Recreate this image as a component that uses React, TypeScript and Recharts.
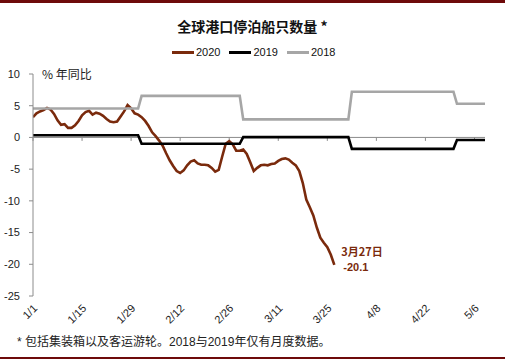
import React from 'react';
import { LineChart, Line, XAxis, YAxis, ReferenceLine, ReferenceDot, Label } from 'recharts';

// 2020 daily YoY values, starting 1/1 (day 0) through 3/27 (day 86)
const VALUES_2020 = [
  3.2, 3.8, 4.1, 4.3, 4.65, 4.4, 3.7, 2.7, 2.0, 2.1,
  1.5, 1.5, 1.9, 2.6, 3.5, 4.0, 4.2, 3.6, 3.9, 3.75,
  3.4, 2.9, 2.5, 2.4, 2.5, 3.3, 4.1, 5.1, 4.6, 3.8,
  3.6, 3.2, 2.6, 1.8, 0.8, 0.2, -0.5, -1.3, -2.5, -3.6,
  -4.5, -5.3, -5.6, -5.2, -4.4, -3.8, -3.6, -4.1, -4.3, -4.3,
  -4.4, -4.8, -5.4, -5.1, -3.0, -1.0, -0.6, -1.1, -2.1, -2.1,
  -1.9, -2.6, -3.9, -5.3, -4.8, -4.4, -4.3, -4.4, -4.2, -4.1,
  -3.7, -3.4, -3.3, -3.5, -4.0, -4.4, -5.3, -7.2, -9.8, -11.0,
  -12.3, -14.2, -15.8, -16.6, -17.3, -18.5, -20.1,
];

// Monthly series (Jan..May): first and last day index of each month
const MONTH_START = [0, 31, 60, 91, 121];
const MONTH_END = [30, 59, 90, 120, 129];
const VALUES_2019 = [0.35, -1.0, 0.05, -1.8, -0.4];
const VALUES_2018 = [4.55, 6.55, 2.85, 7.2, 5.3];

const TICK_DAYS = [0, 14, 28, 42, 56, 70, 84, 98, 112, 126];
const TICK_LABELS = ['1/1', '1/15', '1/29', '2/12', '2/26', '3/11', '3/25', '4/8', '4/22', '5/6'];
const Y_TICKS = [-25, -20, -15, -10, -5, 0, 5, 10];

const SERIES = [
  { name: '2020', color: '#7a2a0c' },
  { name: '2019', color: '#000000' },
  { name: '2018', color: '#a6a6a6' },
];

const LAST_DAY = 86;
const LAST_VALUE = -20.1;

const data2020 = VALUES_2020.map((v, i) => ({ day: i, v }));
const monthly = (vals: number[]) =>
  vals.flatMap((v, i) => [
    { day: MONTH_START[i], v },
    { day: MONTH_END[i], v },
  ]);
const data2019 = monthly(VALUES_2019);
const data2018 = monthly(VALUES_2018);

const FONT = '"Liberation Sans", "Noto Sans CJK SC", sans-serif';
const CJK = '"Noto Sans CJK SC", "Liberation Sans", sans-serif';

const XTick = (props: any) => {
  const { x, y, payload } = props;
  const idx = TICK_DAYS.indexOf(payload.value);
  const ax = x + 5;
  const ay = y + 5;
  return (
    <text
      x={ax}
      y={ay}
      transform={`rotate(-45, ${ax}, ${ay})`}
      textAnchor="end"
      fontSize={11}
      fontFamily={FONT}
      fill="#222"
    >
      {idx >= 0 ? TICK_LABELS[idx] : ''}
    </text>
  );
};

const EndLabel = (props: any) => {
  const { viewBox } = props;
  const cx = viewBox.x + viewBox.width / 2;
  const cy = viewBox.y + viewBox.height / 2;
  return (
    <g fontFamily={CJK} fontWeight={700} fontSize={11} fill="#7a2a0c">
      <text x={cx + 7} y={cy - 9}>3月27日</text>
      <text x={cx + 9} y={cy + 6} fontFamily={FONT}>{LAST_VALUE.toFixed(1)}</text>
    </g>
  );
};

export default function App() {
  return (
    <div
      style={{
        position: 'absolute',
        left: 0,
        top: 0,
        width: 505,
        height: 362,
        background: '#fff',
        overflow: 'hidden',
      }}
    >
      <div style={{ position: 'absolute', left: 0, top: 0, width: 505, height: 2.5, background: '#6e0a0a' }} />
      <div style={{ position: 'absolute', left: 0, top: 356.5, width: 505, height: 2.5, background: '#6e0a0a' }} />
      <div
        style={{
          position: 'absolute',
          left: 0,
          top: 16,
          width: 505,
          textAlign: 'center',
          fontFamily: CJK,
          fontWeight: 700,
          fontSize: 14,
          lineHeight: '20px',
          color: '#111',
        }}
      >
        全球港口停泊船只数量 *
      </div>
      <div
        style={{
          position: 'absolute',
          left: 172,
          top: 44,
          display: 'flex',
          alignItems: 'center',
          fontFamily: FONT,
          fontSize: 11,
          lineHeight: '16px',
          color: '#111',
        }}
      >
        {SERIES.map((s) => (
          <div key={s.name} style={{ display: 'flex', alignItems: 'center', marginRight: 9 }}>
            <div style={{ width: 22, height: 3, background: s.color, marginRight: 2 }} />
            <span>{s.name}</span>
          </div>
        ))}
      </div>
      <div
        style={{
          position: 'absolute',
          left: 42,
          top: 66,
          fontFamily: CJK,
          fontSize: 12,
          lineHeight: '16px',
          color: '#222',
        }}
      >
        % 年同比
      </div>
      <div
        style={{
          position: 'absolute',
          left: 17,
          top: 333,
          fontFamily: FONT,
          fontSize: 12,
          lineHeight: '18px',
          color: '#222',
          whiteSpace: 'nowrap',
        }}
      >
        * 包括集装箱以及客运游轮。2018与2019年仅有月度数据。
      </div>
      <div style={{ position: 'absolute', left: 0, top: 0 }}>
        <LineChart width={505} height={362} margin={{ top: 74, right: 20, bottom: 26, left: 0 }}>
          <XAxis
            dataKey="day"
            type="number"
            domain={[0, 129]}
            ticks={TICK_DAYS}
            interval={0}
            axisLine={false}
            tickLine={false}
            tick={<XTick />}
            height={40}
            allowDataOverflow
          />
          <YAxis
            type="number"
            domain={[-25, 10]}
            ticks={Y_TICKS}
            interval={0}
            width={33}
            axisLine={{ stroke: '#8c8c8c' }}
            tickLine={{ stroke: '#8c8c8c' }}
            tickSize={4}
            tickMargin={9}
            tick={{ fontSize: 11, fontFamily: FONT, fill: '#222' }}
          />
          <ReferenceLine y={0} stroke="#8c8c8c" strokeWidth={1} />
          {TICK_DAYS.map((d) => (
            <ReferenceLine
              key={d}
              segment={[
                { x: d, y: 0 },
                { x: d, y: -0.55 },
              ]}
              stroke="#8c8c8c"
              strokeWidth={1}
            />
          ))}
          <Line
            data={data2020}
            dataKey="v"
            type="linear"
            stroke={SERIES[0].color}
            strokeWidth={2.6}
            dot={false}
            isAnimationActive={false}
          />
          <Line
            data={data2019}
            dataKey="v"
            type="linear"
            stroke={SERIES[1].color}
            strokeWidth={2.6}
            dot={false}
            isAnimationActive={false}
          />
          <Line
            data={data2018}
            dataKey="v"
            type="linear"
            stroke={SERIES[2].color}
            strokeWidth={2.6}
            dot={false}
            isAnimationActive={false}
          />
          <ReferenceDot x={LAST_DAY} y={LAST_VALUE} r={0} fill="none" stroke="none">
            <Label content={<EndLabel />} />
          </ReferenceDot>
        </LineChart>
      </div>
    </div>
  );
}
